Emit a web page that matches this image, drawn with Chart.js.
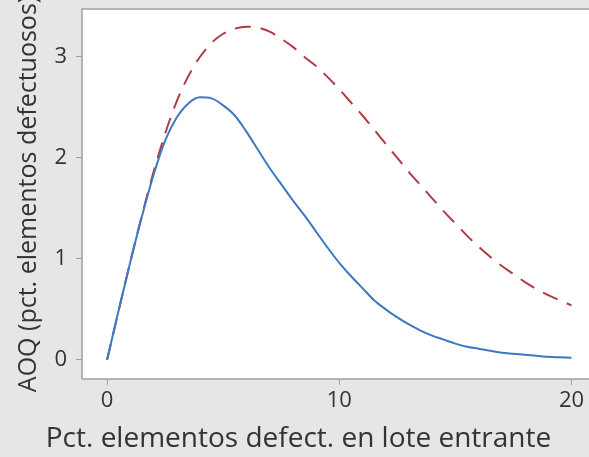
<!DOCTYPE html>
<html>
<head>
<meta charset="utf-8">
<script src="https://cdn.jsdelivr.net/npm/chart.js@4/dist/chart.umd.min.js"></script>
<style>
  html, body { margin: 0; padding: 0; overflow: hidden; background: #e6e6e6; }
  #wrap { width: 600px; height: 457px; }
</style>
</head>
<body>
<div id="wrap"><canvas id="c" width="600" height="457"></canvas></div>
<script>
const pctDefect = [0,0.5,1,1.5,2,2.5,3,3.5,4,4.5,5,5.5,6,6.5,7,7.5,8,8.5,9,9.5,10,10.5,11,11.5,12,12.5,13,13.5,14,14.5,15,15.5,16,16.5,17,17.5,18,18.5,19,19.5,20];
const aoqPlanA = [0,0.49,0.97,1.42,1.83,2.17,2.40,2.54,2.60,2.59,2.52,2.42,2.26,2.08,1.90,1.74,1.58,1.43,1.27,1.11,0.96,0.83,0.71,0.59,0.50,0.42,0.35,0.29,0.24,0.20,0.16,0.13,0.11,0.09,0.07,0.06,0.05,0.04,0.03,0.025,0.02];
const aoqPlanB = [0,0.49,0.97,1.43,1.86,2.24,2.56,2.81,3.00,3.14,3.23,3.28,3.30,3.29,3.25,3.18,3.10,3.00,2.91,2.80,2.68,2.55,2.42,2.28,2.14,2.00,1.86,1.73,1.60,1.47,1.35,1.23,1.12,1.02,0.93,0.85,0.77,0.70,0.64,0.59,0.54];
const xTicks = [0,10,20];
const yTicks = [0,1,2,3];
const xTitle = 'Pct. elementos defect. en lote entrante';
const yTitle = 'AOQ (pct. elementos defectuosos)';

const toPts = ys => pctDefect.map((x,i) => ({x, y: ys[i]}));

const framePlugin = {
  id: 'frame',
  beforeDraw(chart) {
    const {ctx, chartArea: a} = chart;
    ctx.save();
    ctx.fillStyle = '#e6e6e6';
    ctx.fillRect(0, 0, chart.width, chart.height);
    ctx.fillStyle = '#ffffff';
    ctx.fillRect(a.left, a.top, a.right - a.left + 5, a.bottom - a.top);
    ctx.strokeStyle = '#a0a0a0';
    ctx.lineWidth = 1.5;
    ctx.beginPath();
    ctx.moveTo(a.left, a.bottom);
    ctx.lineTo(a.left, a.top);
    ctx.lineTo(a.right + 5, a.top);
    ctx.moveTo(a.left, a.bottom);
    ctx.lineTo(a.right + 5, a.bottom);
    ctx.stroke();
    ctx.restore();
  }
};

const font = { family: "'Open Sans', 'Noto Sans', sans-serif" };

new Chart(document.getElementById('c'), {
  type: 'line',
  data: {
    datasets: [
      { data: toPts(aoqPlanA), borderColor: '#3d79c2', borderWidth: 2, pointRadius: 0, cubicInterpolationMode: 'monotone', fill: false },
      { data: toPts(aoqPlanB), borderColor: '#b23a44', borderWidth: 2, borderDash: [16, 10], pointRadius: 0, cubicInterpolationMode: 'monotone', fill: false }
    ]
  },
  options: {
    responsive: false,
    animation: false,
    devicePixelRatio: 1,
    layout: { padding: { top: 9, right: 3, left: 0, bottom: 0 } },
    plugins: {
      legend: { display: false },
      tooltip: { enabled: false },
      title: { display: true, position: 'bottom', text: xTitle, color: '#333333', font: { ...font, size: 28, weight: 'normal', lineHeight: 1.2 }, padding: { top: 0, bottom: 1 } }
    },
    scales: {
      x: {
        type: 'linear',
        min: -1.08, max: 21.1,
        afterFit(s) { s.height = 43.4; s.paddingLeft = 0; s.paddingRight = 0; },
        afterBuildTicks(s) { s.ticks = xTicks.map(v => ({value: v})); },
        grid: { drawOnChartArea: false, drawTicks: true, tickLength: 6, tickColor: '#a0a0a0', color: '#a0a0a0' },
        border: { display: false },
        ticks: { color: '#333333', font: { ...font, size: 22 }, padding: 3, maxRotation: 0 },
        title: { display: false }
      },
      y: {
        type: 'linear',
        min: -0.19, max: 3.475,
        afterFit(s) { s.width = 82; s.paddingTop = 0; s.paddingBottom = 0; },
        afterBuildTicks(s) { s.ticks = yTicks.map(v => ({value: v})); },
        grid: { drawOnChartArea: false, drawTicks: true, tickLength: 6, tickColor: '#a0a0a0', color: '#a0a0a0' },
        border: { display: false },
        ticks: { color: '#333333', font: { ...font, size: 22 }, padding: 9 },
        title: { display: true, text: yTitle, color: '#333333', font: { ...font, size: 25 }, padding: { top: 14, bottom: 0 } }
      }
    }
  },
  plugins: [framePlugin]
});
</script>
</body>
</html>
